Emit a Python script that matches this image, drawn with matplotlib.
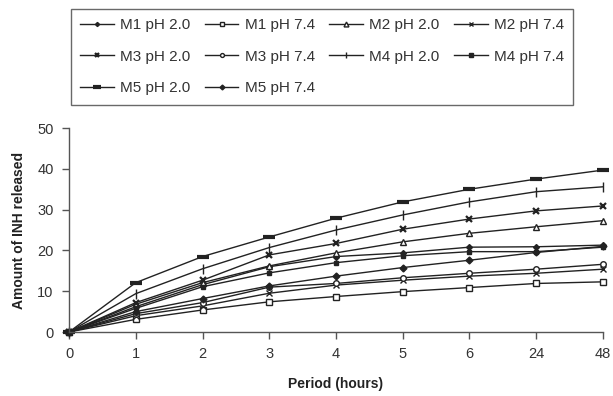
import matplotlib
matplotlib.use("Agg")
import matplotlib.pyplot as plt

plt.rcParams['font.family'] = ['Liberation Sans', 'DejaVu Sans']

periods = ["0", "1", "2", "3", "4", "5", "6", "24", "48"]

m1_ph2 = [0, 6.2, 11.6, 16.0, 18.5, 19.4, 20.8, 20.9, 21.3]
m1_ph74 = [0, 3.1, 5.4, 7.4, 8.7, 9.9, 10.9, 11.9, 12.3]
m2_ph2 = [0, 6.8, 12.1, 16.2, 19.4, 22.1, 24.2, 25.8, 27.3]
m2_ph74 = [0, 4.0, 6.4, 9.5, 11.5, 12.7, 13.7, 14.4, 15.4]
m3_ph2 = [0, 7.2, 12.7, 18.9, 21.7, 25.2, 27.7, 29.7, 30.9]
m3_ph74 = [0, 4.5, 7.2, 11.0, 11.9, 13.3, 14.4, 15.4, 16.6]
m4_ph2 = [0, 9.4, 15.5, 20.7, 25.0, 28.7, 31.9, 34.4, 35.6]
m4_ph74 = [0, 5.8, 11.1, 14.5, 17.0, 18.7, 19.7, 19.7, 20.8]
m5_ph2 = [0, 12.1, 18.5, 23.3, 27.9, 31.9, 35.0, 37.5, 39.7]
m5_ph74 = [0, 5.0, 8.2, 11.3, 13.7, 15.8, 17.6, 19.5, 21.0]

series = [
    ("M1 pH 2.0", m1_ph2, dict(marker="D", ms=3, mfc="#222")),
    ("M1 pH 7.4", m1_ph74, dict(marker="s", ms=5, mfc="white")),
    ("M2 pH 2.0", m2_ph2, dict(marker="^", ms=5, mfc="white")),
    ("M2 pH 7.4", m2_ph74, dict(marker="x", ms=5, mew=1.0)),
    ("M3 pH 2.0", m3_ph2, dict(marker="x", ms=5, mew=1.6)),
    ("M3 pH 7.4", m3_ph74, dict(marker="o", ms=4, mfc="white")),
    ("M4 pH 2.0", m4_ph2, dict(marker="|", ms=7, mew=1.0)),
    ("M4 pH 7.4", m4_ph74, dict(marker="s", ms=3.5, mfc="#222")),
    ("M5 pH 2.0", m5_ph2, dict(marker="_", ms=8, mew=3.0)),
    ("M5 pH 7.4", m5_ph74, dict(marker="D", ms=3.5, mfc="#222")),
]

fig = plt.figure(figsize=(6.13, 3.96), dpi=100)
ax = fig.add_axes([0.1126, 0.1616, 0.871, 0.515])

x = list(range(len(periods)))
lines = []
for label, vals, style in series:
    ln, = ax.plot(x, vals, color="#222", lw=1.0, mec="#222", label=label,
                  clip_on=False, **style)
    lines.append(ln)

ax.set_xlim(0, len(periods) - 1)
ax.set_ylim(0, 50)
ax.set_xticks(x)
ax.set_xticklabels(periods)
ax.set_yticks(range(0, 51, 10))
for s in ["top", "right"]:
    ax.spines[s].set_visible(False)
for s in ["left", "bottom"]:
    ax.spines[s].set_color("#555")
    ax.spines[s].set_linewidth(1.0)
ax.tick_params(colors="#555", labelcolor="#333", labelsize=10.5, length=5, width=1.0, pad=6)

ax.set_xlabel("Period (hours)", fontsize=10, fontweight="bold", color="#222", labelpad=11)
ax.set_ylabel("Amount of INH released", fontsize=10, fontweight="bold", color="#222", labelpad=8)

# legend fills by column, reorder so it reads row by row
order = [0, 4, 8, 1, 5, 9, 2, 6, 3, 7]
leg = fig.legend([lines[i] for i in order], [series[i][0] for i in order],
                 loc="upper left", bbox_to_anchor=(0.1158, 0.730, 0.819, 0.247),
                 mode="expand", ncol=4, fontsize=11, frameon=True, fancybox=False,
                 edgecolor="#444", handlelength=2.2, handletextpad=0.4,
                 columnspacing=0.6, borderpad=0.6, labelspacing=1.15,
                 borderaxespad=0, markerscale=0.7)
leg.get_frame().set_linewidth(1.0)
for t in leg.get_texts():
    t.set_color("#333")

fig.savefig("out.png", dpi=100)
